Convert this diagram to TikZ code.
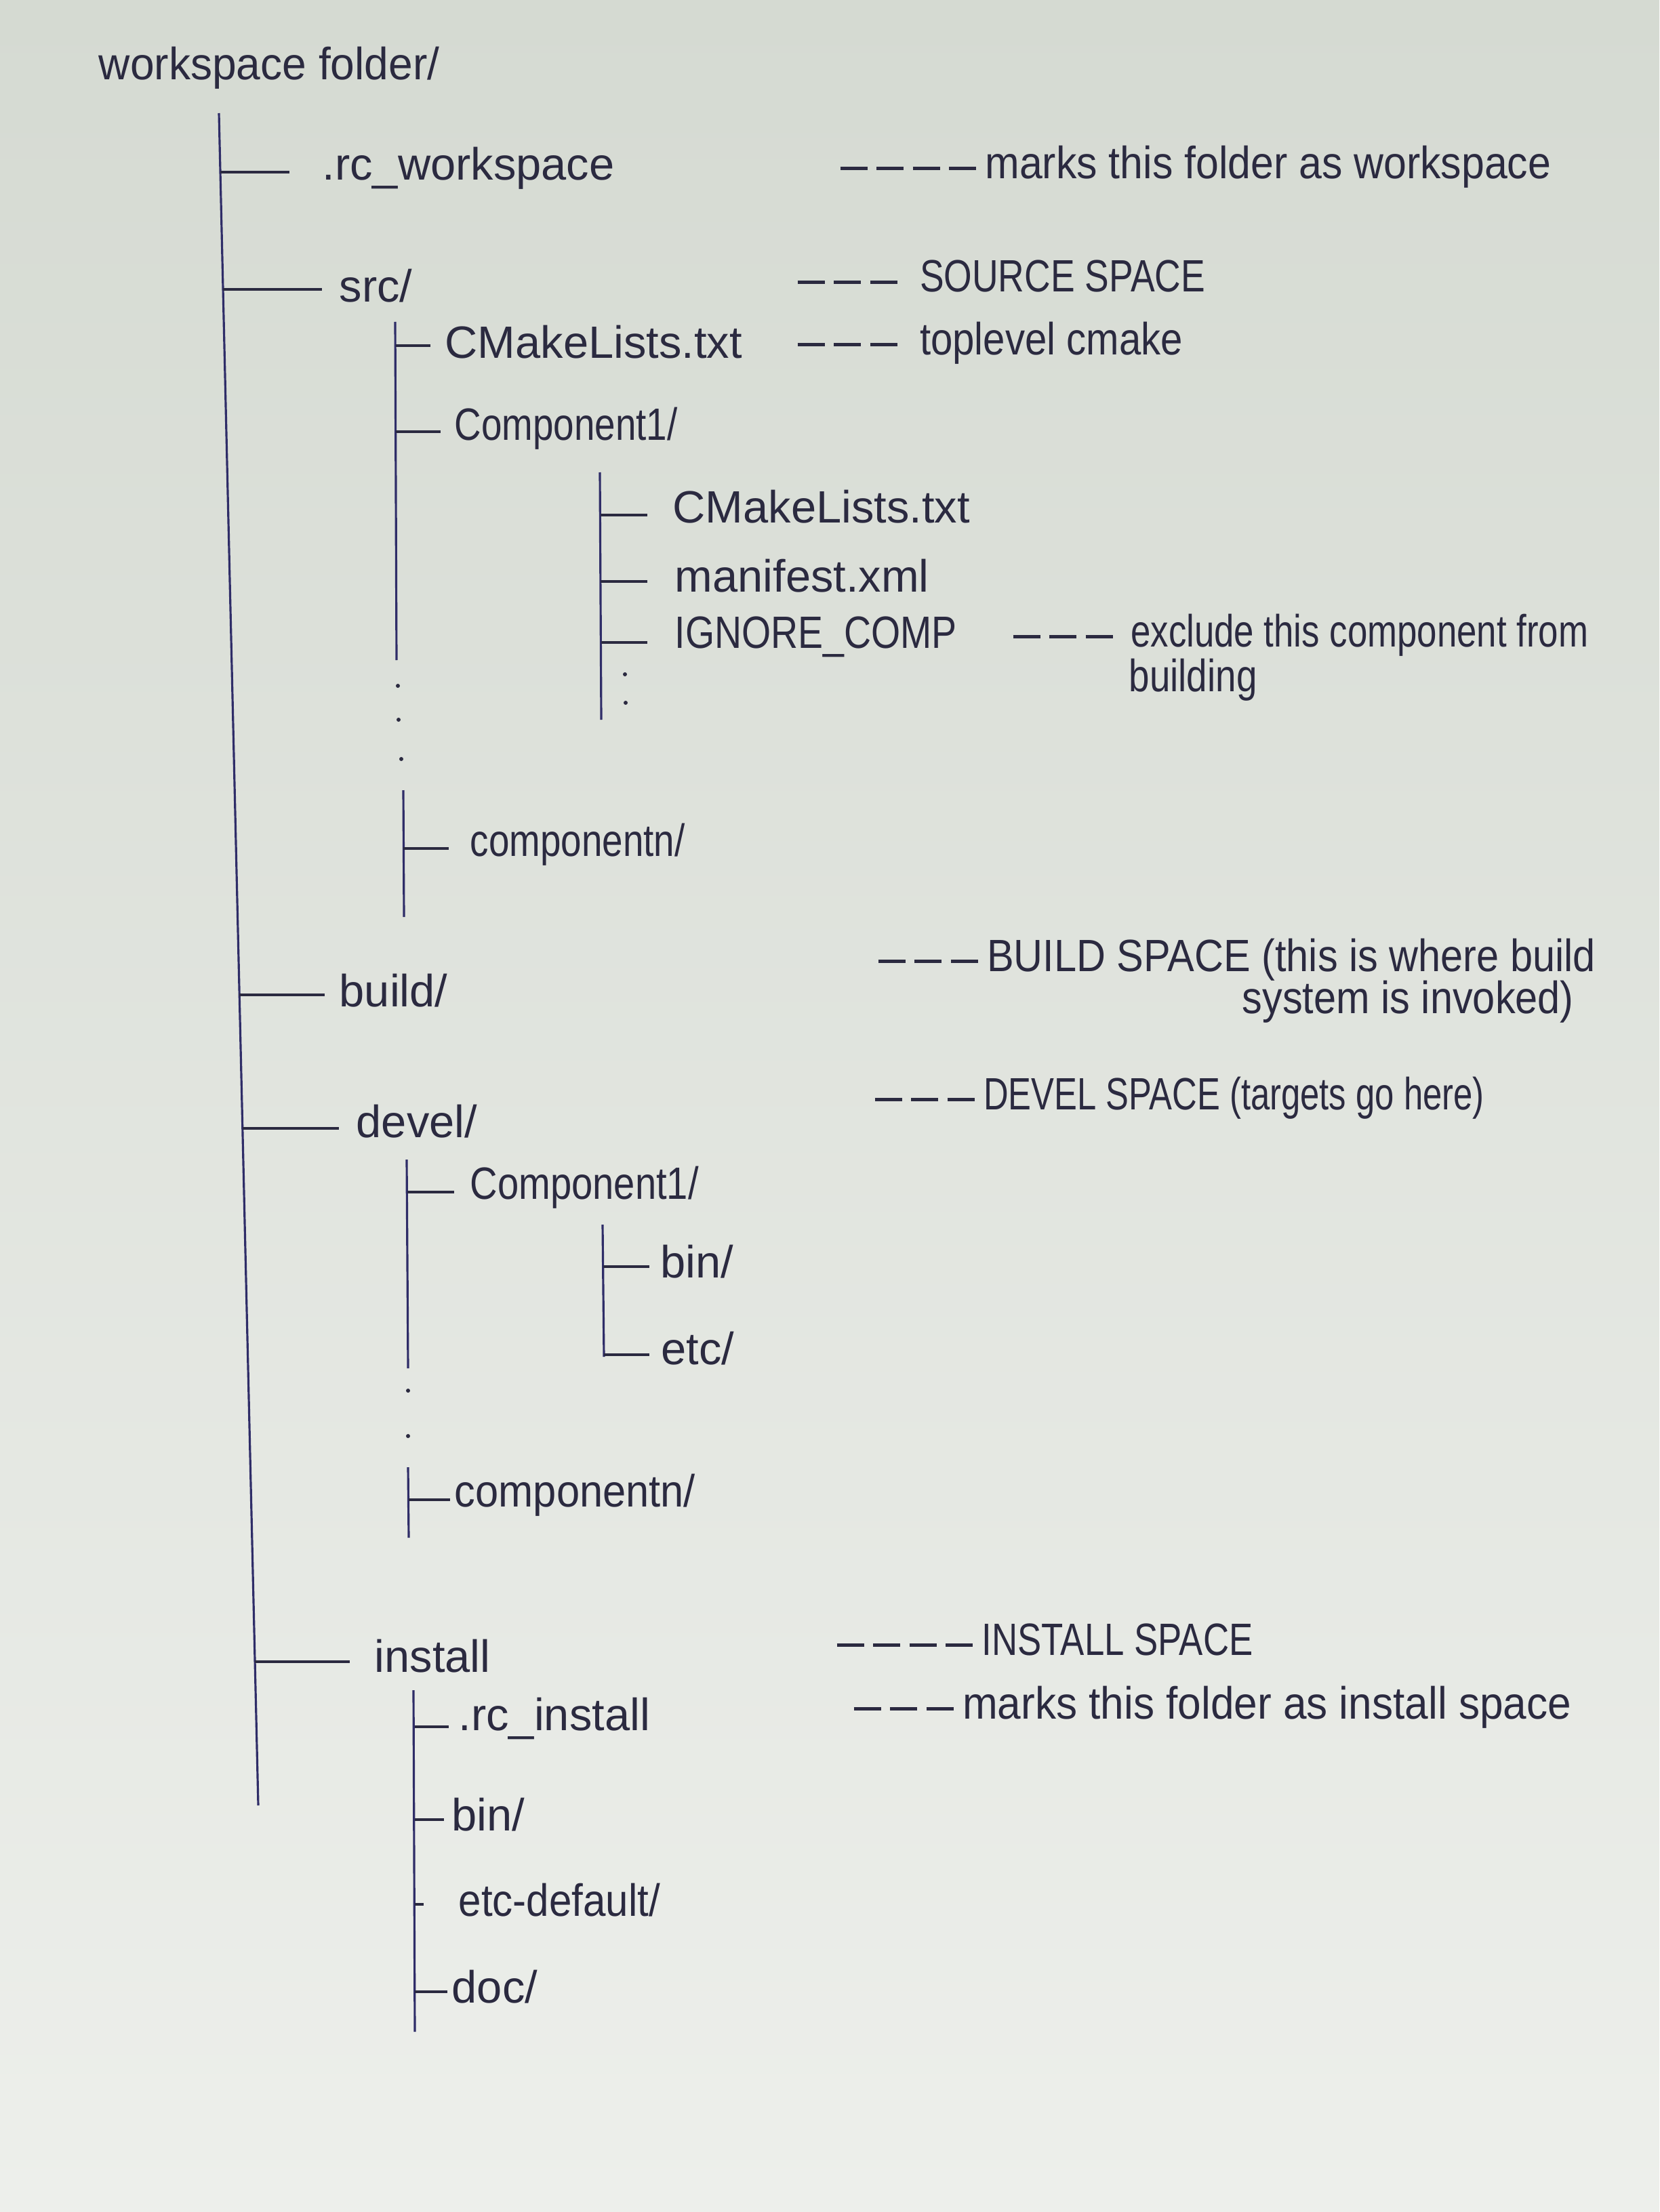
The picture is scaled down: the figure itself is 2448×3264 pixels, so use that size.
\documentclass[tikz,border=0pt]{standalone}
\usepackage{graphicx}
\usepackage{fontspec}
\setmainfont{Liberation Sans}
\definecolor{ink}{HTML}{2B2A40}
\definecolor{pen}{HTML}{2F2D68}
\definecolor{papertop}{HTML}{D5DAD2}
\definecolor{paperbot}{HTML}{EDEFEB}
\newcommand{\dsh}[1]{\foreach \i in {1,...,#1}{\raisebox{0.18em}{\rule{0.6em}{1.4pt}}\hspace{0.2em}}}
\newcommand{\sq}[2]{\scalebox{#1}[1]{#2}}
\begin{document}
\begin{tikzpicture}[x=0.01cm,y=-0.01cm,
  entry/.style={anchor=west,inner sep=0pt,text=ink,font=\fontsize{19}{23}\selectfont},
  note/.style={entry},
  trunk/.style={draw=pen,line width=0.9pt},
  tick/.style={draw=ink,line width=1.4pt,shorten >=#1},
  tick/.default=0.2cm]
% paper
\shade[top color=papertop,bottom color=paperbot] (0,0) rectangle (2448,3264);
\useasboundingbox (0,0) rectangle (2448,3264);

% ---------- nodes ----------
\node[entry] (root) at (145,100) {\sq{0.96}{workspace folder/}};
\node[entry] (rcw) at (475,248) {.rc\_workspace};
\node[entry] (src) at (500,422) {src/};
\node[entry] (cm1) at (656,505) {CMakeLists.txt};
\node[entry] (c1) at (670,632) {\sq{0.82}{Component1/}};
\node[entry] (cm2) at (992,748) {CMakeLists.txt};
\node[entry] (man) at (995,850) {manifest.xml};
\node[entry] (ign) at (995,940) {\sq{0.83}{IGNORE\_COMP}};
\node[entry] (cn) at (693,1246) {\sq{0.82}{componentn/}};
\node[entry] (build) at (500,1462) {build/};
\node[entry] (devel) at (525,1655) {devel/};
\node[entry] (dc1) at (693,1752) {\sq{0.84}{Component1/}};
\node[entry] (bin1) at (974,1862) {bin/};
\node[entry] (etc1) at (975,1990) {etc/};
\node[entry] (dcn) at (670,2206) {\sq{0.92}{componentn/}};
\node[entry] (inst) at (552,2444) {install};
\node[entry] (rci) at (676,2536) {.rc\_install};
\node[entry] (bin2) at (666,2678) {bin/};
\node[entry] (etcd) at (676,2804) {\sq{0.9}{etc-default/}};
\node[entry] (doc) at (666,2932) {doc/};

% annotations
\node[note] (n1) at (1239,246) {\dsh{4}\sq{0.91}{marks this folder as workspace}};
\node[note] (n2) at (1176,408) {\dsh{3}\hspace{0.3em}\sq{0.8}{SOURCE SPACE}};
\node[note] (n3) at (1176,506) {\dsh{3}\hspace{0.3em}\sq{0.87}{toplevel cmake}};
\node[note] (n4) at (1494,937) {\dsh{3}\hspace{0.2em}\sq{0.79}{exclude this component from}};
\node[note] (n4b) at (1665,1003) {\sq{0.82}{building}};
\node[note] (n5) at (1295,1416) {\dsh{3}\sq{0.89}{BUILD SPACE (this is where build}};
\node[note] (n5b) at (1832,1478) {\sq{0.89}{system is invoked)}};
\node[note] (n6) at (1290,1620) {\dsh{3}\sq{0.76}{DEVEL SPACE (targets go here)}};
\node[note] (n7) at (1234,2419) {\dsh{4}\sq{0.79}{INSTALL SPACE}};
\node[note] (n8) at (1259,2519) {\dsh{3}\sq{0.93}{marks this folder as install space}};

% ---------- tree lines ----------
\coordinate (tA) at (323,167);
\coordinate (tB) at (381,2664);
\draw[trunk] (tA) -- (tB);

\coordinate (s1) at (583,475);  \coordinate (s2) at (585,974);
\coordinate (s3) at (595,1166); \coordinate (s4) at (596,1353);
\draw[trunk] (s1) -- (s2);
\draw[trunk] (s3) -- (s4);
\fill[ink] (587,1012) circle (3);
\fill[ink] (588,1062) circle (3);
\fill[ink] (592,1120) circle (3);

\coordinate (k1) at (885,697); \coordinate (k2) at (887,1062);
\draw[trunk] (k1) -- (k2);
\fill[ink] (922,995) circle (3);
\fill[ink] (923,1037) circle (3);

\coordinate (d1) at (600,1711); \coordinate (d2) at (602,2019);
\coordinate (d3) at (602,2165); \coordinate (d4) at (603,2269);
\draw[trunk] (d1) -- (d2);
\draw[trunk] (d3) -- (d4);
\fill[ink] (602,2052) circle (3);
\fill[ink] (602,2119) circle (3);

\coordinate (e1) at (889,1807); \coordinate (e2) at (891,2002);
\draw[trunk] (e1) -- (e2);

\coordinate (i1) at (610,2494); \coordinate (i2) at (612,2998);
\draw[trunk] (i1) -- (i2);

% ---------- ticks ----------
\coordinate (b1) at (325,254);  \draw[tick=0.48cm] (b1) -- (b1 -| rcw.west);
\coordinate (b2) at (329,427);  \draw[tick=0.25cm] (b2) -- (b2 -| src.west);
\coordinate (b3) at (353,1468); \draw[tick=0.21cm] (b3) -- (b3 -| build.west);
\coordinate (b4) at (358,1665); \draw[tick=0.25cm] (b4) -- (b4 -| devel.west);
\coordinate (b5) at (376,2452); \draw[tick=0.36cm] (b5) -- (b5 -| inst.west);

\coordinate (c1a) at (584,510);  \draw[tick=0.21cm] (c1a) -- (c1a -| cm1.west);
\coordinate (c1b) at (584,637);  \draw[tick=0.20cm] (c1b) -- (c1b -| c1.west);
\coordinate (cna) at (595,1252); \draw[tick=0.31cm] (cna) -- (cna -| cn.west);

\coordinate (ka) at (886,760); \draw[tick=0.37cm] (ka) -- (ka -| cm2.west);
\coordinate (kb) at (886,858); \draw[tick=0.40cm] (kb) -- (kb -| man.west);
\coordinate (kc) at (887,948); \draw[tick=0.40cm] (kc) -- (kc -| ign.west);

\coordinate (da) at (601,1759); \draw[tick=0.23cm] (da) -- (da -| dc1.west);
\coordinate (db) at (603,2213); \draw[tick=0.06cm] (db) -- (db -| dcn.west);
\coordinate (ea) at (890,1869); \draw[tick=0.16cm] (ea) -- (ea -| bin1.west);
\coordinate (eb) at (891,1999); \draw[tick=0.17cm] (eb) -- (eb -| etc1.west);

\coordinate (ia) at (612,2548); \draw[tick=0.14cm] (ia) -- (ia -| rci.west);
\coordinate (ib) at (612,2685); \draw[tick=0.11cm] (ib) -- (ib -| bin2.west);
\coordinate (ic) at (612,2810); \draw[tick=0.51cm] (ic) -- (ic -| etcd.west);
\coordinate (id) at (612,2939); \draw[tick=0.06cm] (id) -- (id -| doc.west);
\end{tikzpicture}
\end{document}
